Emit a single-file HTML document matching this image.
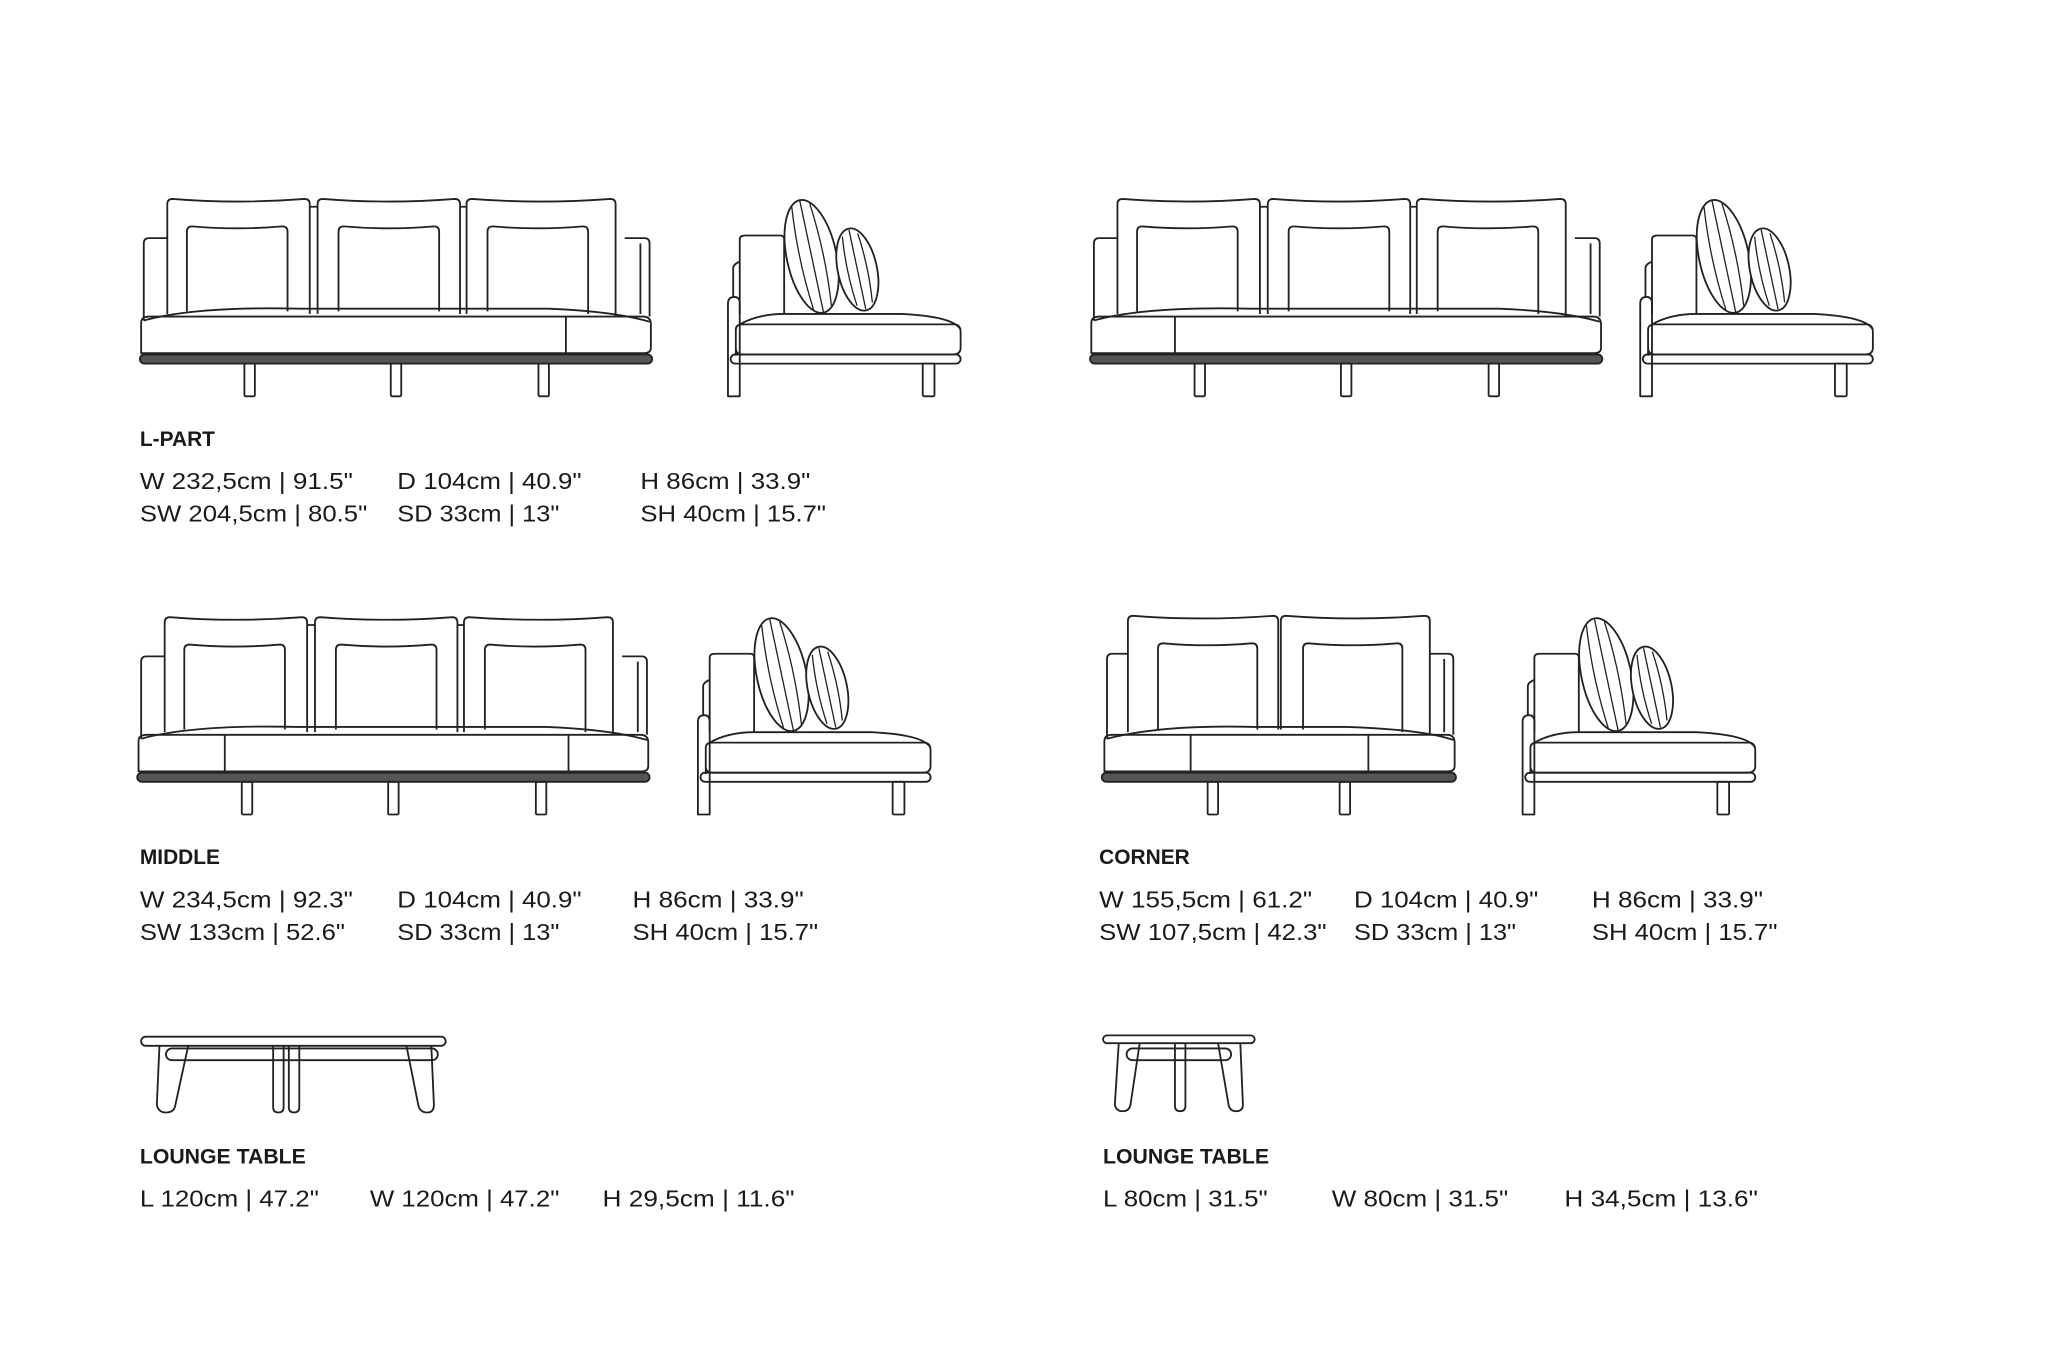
<!DOCTYPE html>
<html><head><meta charset="utf-8"><style>
html,body{margin:0;padding:0;background:#fff;}
svg{display:block;}
text{font-family:"Liberation Sans",sans-serif;fill:#1a1a1a;}
.h{font-weight:bold;font-size:16px;}
.d{font-size:18px;}
</style></head><body>
<svg width="2048" height="1365" viewBox="0 0 1567 1044" xmlns="http://www.w3.org/2000/svg">
<defs>
<g id="front3" fill="none" stroke="#222" stroke-width="1.4" stroke-linejoin="round">
  <path d="M110 245 V186 Q110 182 114 182 H128"/>
  <path d="M478 182 H493 Q497 182 497 186 V242"/>
  <path d="M490 186 V240"/>
  <path d="M128 240 V156 Q128 152 132 152 Q182 156 233 152 Q237 152 237 156 V240"/>
  <path d="M243 240 V156 Q243 152 247 152 Q297 156 348 152 Q352 152 352 156 V240"/>
  <path d="M357 240 V156 Q357 152 361 152 Q414 156 467 152 Q471 152 471 156 V242"/>
  <path d="M143 238 V177 Q143 173 147 173 Q181 176 216 173 Q220 173 220 177 V238"/>
  <path d="M259 238 V177 Q259 173 263 173 Q297 176 332 173 Q336 173 336 177 V238"/>
  <path d="M373 238 V177 Q373 173 377 173 Q411 176 446 173 Q450 173 450 177 V240"/>
  <path d="M237 158 H243 M352 158 H357"/>
  <path d="M110 245 Q150 234 230 236 H420 Q470 238 497 246"/>
  <path d="M108 270 V247 Q108 242 114 242 H492 Q498 242 498 248 V266 Q498 270 493 270 Z"/>
  <rect x="107" y="271" width="392" height="7" rx="3.5" fill="#555" stroke="#222"/>
  <rect x="187" y="278" width="8" height="25" rx="1"/>
  <rect x="299" y="278" width="8" height="25" rx="1"/>
  <rect x="412" y="278" width="8" height="25" rx="1"/>
</g>
<g id="side" fill="none" stroke="#222" stroke-width="1.4" stroke-linejoin="round">
  <path d="M557 303 V232 Q557 227 562 227 Q566 227 566 232 V303 Z"/>
  <path d="M561 227 V205 Q561 202 566 200"/>
  <path d="M566 240 V183 Q566 180 570 180 H597 Q600 180 600 183 V240"/>
  <path d="M566 248 Q580 240 600 240 H690 Q730 242 735 252"/>
  <path d="M563 272 V252 Q563 248 568 248 H730 Q735 248 735 254 V266 Q735 271 729 271 H568 Q563 271 563 266"/>
  <rect x="559" y="271" width="176" height="7" rx="3.5"/>
  <rect x="706" y="278" width="9" height="25" rx="1"/>
  <g transform="rotate(-12 621 196)">
    <ellipse cx="621" cy="196" rx="19" ry="44" fill="#fff"/>
    <path d="M614 156 Q610 196 614 236 M621 152 V240 M628 156 Q632 196 628 236" stroke-width="1"/>
  </g>
  <g transform="rotate(-12 656 206)">
    <ellipse cx="656" cy="206" rx="15" ry="32" fill="#fff"/>
    <path d="M650 179 Q647 206 650 233 M656 175 V237 M662 179 Q665 206 662 233" stroke-width="1"/>
  </g>
</g>
</defs>

<!-- L-PART -->
<use href="#front3"/>
<path d="M433 242 V270" stroke="#222" stroke-width="1.4"/>
<use href="#side"/>
<!-- top right -->
<use href="#front3" transform="translate(727 0)"/>
<path d="M899 242 V270" stroke="#222" stroke-width="1.4"/>
<use href="#side" transform="translate(698 0)"/>
<!-- MIDDLE -->
<use href="#front3" transform="translate(-2 320)"/>
<path d="M172 562 V590 M435 562 V590" stroke="#222" stroke-width="1.4"/>
<use href="#side" transform="translate(-23 320)"/>
<!-- CORNER side -->
<use href="#side" transform="translate(608 320)"/>

<!-- CORNER front -->
<g fill="none" stroke="#222" stroke-width="1.4" stroke-linejoin="round">
  <path d="M847 565 V504 Q847 500 851 500 H863"/>
  <path d="M1094 500 H1108 Q1112 500 1112 504 V562"/>
  <path d="M1105 504 V560"/>
  <path d="M863 560 V475 Q863 471 867 471 Q920 475 974 471 Q978 471 978 475 V558"/>
  <path d="M980 558 V475 Q980 471 984 471 Q1036 475 1090 471 Q1094 471 1094 475 V562"/>
  <path d="M886 558 V496 Q886 492 890 492 Q922 495 958 492 Q962 492 962 496 V558"/>
  <path d="M997 558 V496 Q997 492 1001 492 Q1035 495 1069 492 Q1073 492 1073 496 V560"/>
  <path d="M847 565 Q890 554 960 556 H1030 Q1090 558 1112 566"/>
  <path d="M845 590 V567 Q845 562 851 562 H1107 Q1113 562 1113 568 V586 Q1113 590 1108 590 Z"/>
  <path d="M911 562 V590 M1047 562 V590"/>
  <rect x="843" y="591" width="271" height="7" rx="3.5" fill="#555"/>
  <rect x="924" y="598" width="8" height="25" rx="1"/>
  <rect x="1025" y="598" width="8" height="25" rx="1"/>
</g>

<!-- big table -->
<g fill="none" stroke="#222" stroke-width="1.4" stroke-linejoin="round">
  <rect x="108" y="793" width="233" height="7" rx="3.5"/>
  <rect x="127" y="802" width="208" height="9" rx="4.5"/>
  <path d="M122 800 L120 845 Q121 851 127 851 Q133 851 134 846 L144 800"/>
  <path d="M311 800 L320 845 Q321 851 327 851 Q332 851 332 845 L330 800"/>
  <path d="M209 800 V847 Q209 851 213 851 Q217 851 217 847 V800"/>
  <path d="M221 800 V847 Q221 851 225 851 Q229 851 229 847 V800"/>
</g>
<!-- small table -->
<g fill="none" stroke="#222" stroke-width="1.4" stroke-linejoin="round">
  <rect x="844" y="792" width="116" height="6" rx="3"/>
  <rect x="862" y="802" width="80" height="9" rx="4.5"/>
  <path d="M856 798 L853 845 Q854 850 859 850 Q864 850 865 845 L872 798"/>
  <path d="M932 798 L940 845 Q941 850 946 850 Q951 850 951 845 L949 798"/>
  <path d="M899 798 V846 Q899 850 903 850 Q907 850 907 846 V798"/>
</g>

<!-- texts -->
<text class="h" x="107" y="341">L-PART</text>
<text class="d" x="107" y="374" textLength="163" lengthAdjust="spacingAndGlyphs">W 232,5cm | 91.5"</text>
<text class="d" x="107" y="399" textLength="174" lengthAdjust="spacingAndGlyphs">SW 204,5cm | 80.5"</text>
<text class="d" x="304" y="374" textLength="141" lengthAdjust="spacingAndGlyphs">D 104cm | 40.9"</text>
<text class="d" x="304" y="399" textLength="124" lengthAdjust="spacingAndGlyphs">SD 33cm | 13"</text>
<text class="d" x="490" y="374" textLength="130" lengthAdjust="spacingAndGlyphs">H 86cm | 33.9"</text>
<text class="d" x="490" y="399" textLength="142" lengthAdjust="spacingAndGlyphs">SH 40cm | 15.7"</text>

<text class="h" x="107" y="661">MIDDLE</text>
<text class="d" x="107" y="694" textLength="163" lengthAdjust="spacingAndGlyphs">W 234,5cm | 92.3"</text>
<text class="d" x="107" y="719" textLength="157" lengthAdjust="spacingAndGlyphs">SW 133cm | 52.6"</text>
<text class="d" x="304" y="694" textLength="141" lengthAdjust="spacingAndGlyphs">D 104cm | 40.9"</text>
<text class="d" x="304" y="719" textLength="124" lengthAdjust="spacingAndGlyphs">SD 33cm | 13"</text>
<text class="d" x="484" y="694" textLength="131" lengthAdjust="spacingAndGlyphs">H 86cm | 33.9"</text>
<text class="d" x="484" y="719" textLength="142" lengthAdjust="spacingAndGlyphs">SH 40cm | 15.7"</text>

<text class="h" x="841" y="661">CORNER</text>
<text class="d" x="841" y="694" textLength="163" lengthAdjust="spacingAndGlyphs">W 155,5cm | 61.2"</text>
<text class="d" x="841" y="719" textLength="174" lengthAdjust="spacingAndGlyphs">SW 107,5cm | 42.3"</text>
<text class="d" x="1036" y="694" textLength="141" lengthAdjust="spacingAndGlyphs">D 104cm | 40.9"</text>
<text class="d" x="1036" y="719" textLength="124" lengthAdjust="spacingAndGlyphs">SD 33cm | 13"</text>
<text class="d" x="1218" y="694" textLength="131" lengthAdjust="spacingAndGlyphs">H 86cm | 33.9"</text>
<text class="d" x="1218" y="719" textLength="142" lengthAdjust="spacingAndGlyphs">SH 40cm | 15.7"</text>

<text class="h" x="107" y="890" textLength="127" lengthAdjust="spacingAndGlyphs">LOUNGE TABLE</text>
<text class="d" x="107" y="923" textLength="137" lengthAdjust="spacingAndGlyphs">L 120cm | 47.2"</text>
<text class="d" x="283" y="923" textLength="145" lengthAdjust="spacingAndGlyphs">W 120cm | 47.2"</text>
<text class="d" x="461" y="923" textLength="147" lengthAdjust="spacingAndGlyphs">H 29,5cm | 11.6"</text>

<text class="h" x="844" y="890" textLength="127" lengthAdjust="spacingAndGlyphs">LOUNGE TABLE</text>
<text class="d" x="844" y="923" textLength="126" lengthAdjust="spacingAndGlyphs">L 80cm | 31.5"</text>
<text class="d" x="1019" y="923" textLength="135" lengthAdjust="spacingAndGlyphs">W 80cm | 31.5"</text>
<text class="d" x="1197" y="923" textLength="148" lengthAdjust="spacingAndGlyphs">H 34,5cm | 13.6"</text>
</svg>
</body></html>
